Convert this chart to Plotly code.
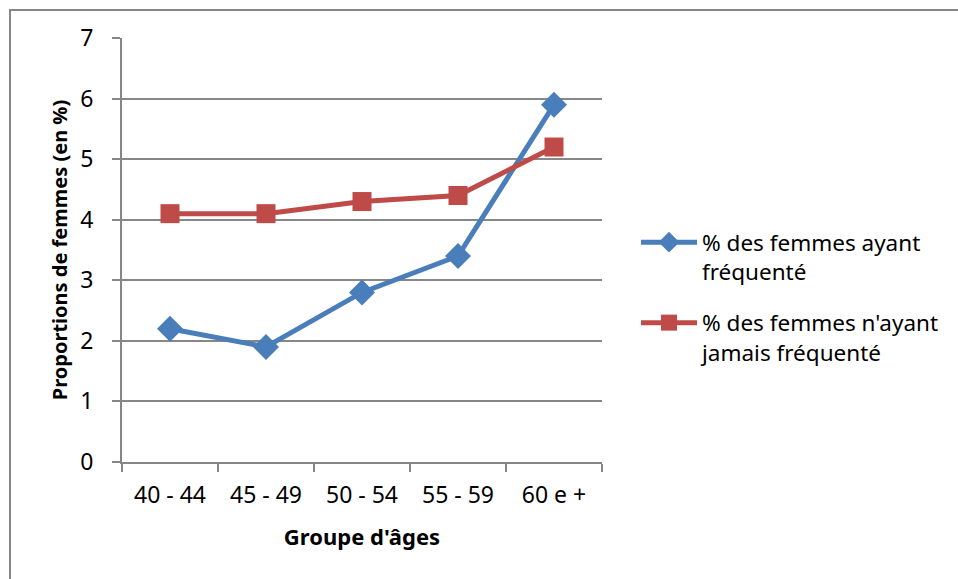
import plotly.graph_objects as go

# Age groups and share of women (%) in each group
age_groups = ["40 - 44", "45 - 49", "50 - 54", "55 - 59", "60 e +"]
frequente = [2.2, 1.9, 2.8, 3.4, 5.9]
jamais_frequente = [4.1, 4.1, 4.3, 4.4, 5.2]
y_ticks = [0, 1, 2, 3, 4, 5, 6, 7]

series_names = [
    "% des femmes ayant<br>fréquenté",
    "% des femmes n'ayant<br>jamais fréquenté",
]

BLUE = "#4A7EBB"
RED = "#BE4B48"
GRID = "#878787"
FONT = "Noto Sans"

fig = go.Figure()
fig.add_trace(go.Scatter(
    x=age_groups, y=frequente, name=series_names[0], mode="lines+markers",
    legendgroup="g1",
    line=dict(color=BLUE, width=5),
    marker=dict(symbol="diamond", size=20, color=BLUE),
))
fig.add_trace(go.Scatter(
    x=age_groups, y=jamais_frequente, name=series_names[1], mode="lines+markers",
    legendgroup="g2",
    line=dict(color=RED, width=5),
    marker=dict(symbol="square", size=19, color=RED),
))

ml, mr, mt, mb = 122, 356, 38, 117
pw, ph = 958 - ml - mr, 579 - mt - mb

def px_x(x):
    return (x - ml) / pw

def px_y(y):
    return 1 - (y - mt) / ph

fig.update_layout(
    width=958, height=579,
    margin=dict(l=ml, r=mr, t=mt, b=mb),
    paper_bgcolor="white", plot_bgcolor="white",
    font=dict(family=FONT, size=23, color="black"),
    showlegend=True,
    legend=dict(
        x=px_x(636), y=px_y(221), xanchor="left", yanchor="top",
        font=dict(family=FONT, size=22.5), itemwidth=56,
        tracegroupgap=19, valign="top", bgcolor="rgba(0,0,0,0)",
    ),
    xaxis=dict(
        type="category", range=[-0.5, 4.5],
        showline=True, linecolor=GRID, linewidth=2,
        ticks="outside", tickson="boundaries", ticklen=8, tickcolor=GRID, tickwidth=2,
        showgrid=False,
        title=dict(text="<b>Groupe d'âges</b>", font=dict(family=FONT, size=22), standoff=21),
        ticklabelstandoff=11,
    ),
    yaxis=dict(
        range=[0, 7], tickvals=y_ticks,
        showline=True, linecolor=GRID, linewidth=2,
        ticks="outside", ticklen=8, tickcolor=GRID, tickwidth=2,
        showgrid=True, gridcolor=GRID, gridwidth=2,
        zeroline=False,
        title=dict(text="<b>Proportions de femmes (en %)</b>", font=dict(family=FONT, size=20), standoff=7),
        ticklabelstandoff=14,
    ),
    shapes=[dict(
        type="rect", xref="paper", yref="paper",
        x0=px_x(10), x1=px_x(1000), y0=px_y(620), y1=px_y(10),
        line=dict(color=GRID, width=2), fillcolor="rgba(0,0,0,0)", layer="below",
    )],
)

fig.write_html("out.html")
